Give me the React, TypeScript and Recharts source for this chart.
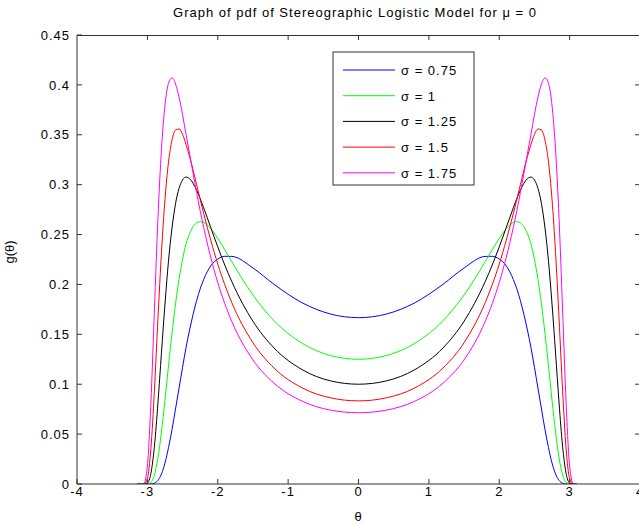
import React from "react";
import {
  LineChart,
  Line,
  XAxis,
  YAxis,
  Label,
  ReferenceLine,
  Customized,
} from "recharts";

// theta grid (radians) and g(theta)
const theta = [
  -3.14, -3.1, -3.05, -3.0, -2.95, -2.9, -2.85, -2.8, -2.75, -2.7, -2.65, -2.6, -2.55, -2.5, -2.45, -2.4,
  -2.3, -2.25, -2.2, -2.1, -2.0, -1.9, -1.8, -1.5, -1.2, -0.8, -0.4, 0, 0.4, 0.8, 1.2, 1.5, 1.8, 1.9,
  2.0, 2.1, 2.2, 2.25, 2.3, 2.4, 2.45, 2.5, 2.55, 2.6, 2.65, 2.7, 2.75, 2.8, 2.85, 2.9, 2.95, 3.0, 3.05, 3.1,
];

const sigma075 = [
  0, 0, 0, 0, 0, 0.0008, 0.0036, 0.0101, 0.021, 0.0364, 0.0545, 0.0752, 0.096, 0.117, 0.137, 0.1544,
  0.1839, 0.1955, 0.205, 0.2186, 0.2254, 0.2282, 0.2281, 0.2165, 0.2001, 0.1816, 0.1704, 0.1667, 0.1704, 0.1816, 0.2001, 0.2165, 0.2281, 0.2282,
  0.2254, 0.2186, 0.205, 0.1955, 0.1839, 0.1544, 0.137, 0.117, 0.096, 0.0752, 0.0545, 0.0364, 0.021, 0.0101, 0.0036, 0.0008, 0, 0, 0, 0,
];
const sigma1 = [
  0, 0, 0, 0.0001, 0.0017, 0.0091, 0.0262, 0.0522, 0.084, 0.1183, 0.1508, 0.1806, 0.2051, 0.2252, 0.2407, 0.251,
  0.2617, 0.2629, 0.2621, 0.2559, 0.2462, 0.2347, 0.2228, 0.1894, 0.1636, 0.141, 0.1288, 0.125, 0.1288, 0.141, 0.1636, 0.1894, 0.2228, 0.2347,
  0.2462, 0.2559, 0.2621, 0.2629, 0.2617, 0.251, 0.2407, 0.2252, 0.2051, 0.1806, 0.1508, 0.1183, 0.084, 0.0522, 0.0262, 0.0091, 0.0017, 0.0001, 0, 0,
];
const sigma125 = [
  0, 0, 0, 0.001, 0.0106, 0.0377, 0.0812, 0.1314, 0.1803, 0.2233, 0.2566, 0.2809, 0.2963, 0.3048, 0.3076, 0.306,
  0.2944, 0.2861, 0.2768, 0.2572, 0.2377, 0.2194, 0.2028, 0.1631, 0.1363, 0.1146, 0.1034, 0.1, 0.1034, 0.1146, 0.1363, 0.1631, 0.2028, 0.2194,
  0.2377, 0.2572, 0.2768, 0.2861, 0.2944, 0.306, 0.3076, 0.3048, 0.2963, 0.2809, 0.2566, 0.2233, 0.1803, 0.1314, 0.0812, 0.0377, 0.0106, 0.001, 0, 0,
];
const sigma15 = [
  0, 0, 0.0001, 0.0055, 0.0354, 0.0938, 0.1655, 0.232, 0.2851, 0.3225, 0.3446, 0.3548, 0.3558, 0.3503, 0.3402, 0.3281,
  0.2999, 0.2854, 0.2711, 0.2444, 0.2205, 0.1997, 0.1817, 0.1416, 0.1162, 0.0963, 0.0864, 0.0833, 0.0864, 0.0963, 0.1162, 0.1416, 0.1817, 0.1997,
  0.2205, 0.2444, 0.2711, 0.2854, 0.2999, 0.3281, 0.3402, 0.3503, 0.3558, 0.3548, 0.3446, 0.3225, 0.2851, 0.232, 0.1655, 0.0938, 0.0354, 0.0055, 0.0001, 0,
];
const sigma175 = [
  0, 0, 0.0005, 0.0181, 0.0814, 0.1745, 0.266, 0.3353, 0.3793, 0.4016, 0.407, 0.4009, 0.3878, 0.3702, 0.3502, 0.3308,
  0.292, 0.274, 0.2572, 0.2273, 0.202, 0.1807, 0.1628, 0.1244, 0.101, 0.083, 0.0741, 0.0714, 0.0741, 0.083, 0.101, 0.1244, 0.1628, 0.1807,
  0.202, 0.2273, 0.2572, 0.274, 0.292, 0.3308, 0.3502, 0.3702, 0.3878, 0.4009, 0.407, 0.4016, 0.3793, 0.3353, 0.266, 0.1745, 0.0814, 0.0181, 0.0005, 0,
];

const xTicks = [-4, -3, -2, -1, 0, 1, 2, 3, 4];
const yTicks = [0, 0.05, 0.1, 0.15, 0.2, 0.25, 0.3, 0.35, 0.4, 0.45];

const series = [
  { key: "s075", label: "σ = 0.75", values: sigma075, color: "#0000ff" },
  { key: "s1", label: "σ = 1", values: sigma1, color: "#00ff00" },
  { key: "s125", label: "σ = 1.25", values: sigma125, color: "#000000" },
  { key: "s15", label: "σ = 1.5", values: sigma15, color: "#ff0000" },
  { key: "s175", label: "σ = 1.75", values: sigma175, color: "#ff00ff" },
];

const data = theta.map((t, i) => {
  const row: Record<string, number> = { theta: t };
  series.forEach((s) => (row[s.key] = s.values[i]));
  return row;
});

const FONT = "'Liberation Sans', Arial, sans-serif";
const AXIS = "#333";
const tickStyle = { fontSize: 13, fill: "#000", fontFamily: FONT, letterSpacing: 1 };

// layout constants shared by the chart props and the frame overlay
const CHART_W = 660;
const CHART_H = 525;
const MARGIN = { top: 35, right: 20, bottom: 11, left: 0 };
const YAXIS_W = 77;
const XAXIS_H = 30;
const PLOT_L = MARGIN.left + YAXIS_W;
const PLOT_R = CHART_W - MARGIN.right;
const PLOT_T = MARGIN.top;
const TICK_X = 0.07; // right-edge tick length in theta units (~5px)

function Title() {
  return (
    <text x={355} y={17} textAnchor="middle" fontSize={13} fontFamily={FONT} letterSpacing={1} fill="#000">
      Graph of pdf of Stereographic Logistic Model for μ = 0
    </text>
  );
}

// top edge of the box with inward ticks
function TopFrame() {
  const xs = xTicks.map((t) => PLOT_L + ((t - xTicks[0]) / (xTicks[xTicks.length - 1] - xTicks[0])) * (PLOT_R - PLOT_L));
  return (
    <g>
      <line x1={PLOT_L} x2={PLOT_R} y1={PLOT_T + 0.5} y2={PLOT_T + 0.5} stroke={AXIS} />
      {xs.slice(1, -1).map((x, i) => (
        <line key={i} x1={x} x2={x} y1={PLOT_T} y2={PLOT_T + 5} stroke={AXIS} />
      ))}
    </g>
  );
}

function LegendBox() {
  const left = 333;
  const top = 52;
  return (
    <g>
      <rect x={left} y={top} width={141} height={133} fill="#fff" stroke={AXIS} />
      {series.map((s, i) => {
        const cy = top + 18 + i * 25.7;
        return (
          <g key={s.key}>
            <line x1={left + 10} x2={left + 62} y1={cy} y2={cy} stroke={s.color} />
            <text x={left + 68} y={cy + 5} fontSize={13} fontFamily={FONT} letterSpacing={1} fill="#000">
              {s.label}
            </text>
          </g>
        );
      })}
    </g>
  );
}

export default function App() {
  return (
    <div style={{ position: "absolute", left: 0, top: 0, width: 639, height: 525, overflow: "hidden", background: "#fff" }}>
      <LineChart width={CHART_W} height={CHART_H} data={data} margin={MARGIN}>
        <XAxis
          dataKey="theta"
          type="number"
          domain={[-4, 4]}
          ticks={xTicks}
          height={XAXIS_H}
          tickSize={-5}
          tickMargin={8}
          tick={tickStyle}
          stroke={AXIS}
          allowDataOverflow
        >
          <Label
            content={() => (
              <text x={358} y={521} textAnchor="middle" fontSize={13} fontFamily={FONT} fill="#000">
                θ
              </text>
            )}
          />
        </XAxis>
        <YAxis
          type="number"
          domain={[0, 0.45]}
          ticks={yTicks}
          width={YAXIS_W}
          tickSize={-5}
          tickMargin={12}
          tick={tickStyle}
          stroke={AXIS}
          allowDataOverflow
        >
          <Label
            content={() => (
              <text
                x={14}
                y={252}
                transform="rotate(-90, 14, 252)"
                textAnchor="middle"
                fontSize={13}
                fontFamily={FONT}
                fill="#000"
              >
                g(θ)
              </text>
            )}
          />
        </YAxis>
        {yTicks.slice(1, -1).map((t) => (
          <ReferenceLine
            key={`ty${t}`}
            segment={[{ x: 4 - TICK_X, y: t }, { x: 4, y: t }]}
            stroke={AXIS}
            ifOverflow="visible"
          />
        ))}
        {series.map((s) => (
          <Line
            key={s.key}
            dataKey={s.key}
            type="monotone"
            stroke={s.color}
            strokeWidth={1}
            dot={false}
            activeDot={false}
            isAnimationActive={false}
          />
        ))}
        <Customized component={TopFrame} />
        <Customized component={Title} />
        <Customized component={LegendBox} />
      </LineChart>
    </div>
  );
}
